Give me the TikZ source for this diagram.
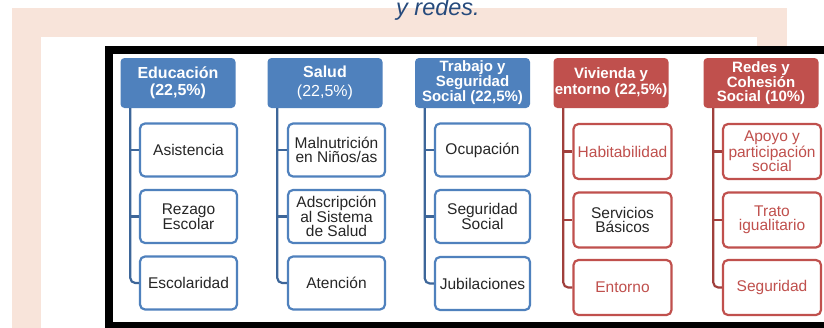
\documentclass[tikz,border=0pt]{standalone}
\usepackage{fontspec}
\setmainfont{Liberation Sans}
\usepackage{xcolor}
\usepackage{tikz}
\usetikzlibrary{positioning}

\definecolor{hdrblue}{HTML}{4F81BD}
\definecolor{lineblue}{HTML}{3D6699}
\definecolor{hdrred}{HTML}{C0504D}
\definecolor{linered}{HTML}{A03F3C}
\definecolor{peach}{HTML}{F8E4DA}
\definecolor{navy}{HTML}{264A7C}
\definecolor{txtgray}{HTML}{262626}

\begin{document}
\begin{tikzpicture}[x=1pt,y=-1pt,
    head/.style={rounded corners=4pt, minimum width=115pt, minimum height=50pt,
        inner sep=0pt, align=center, text=white, font=\fontsize{16}{16}\selectfont\bfseries},
    bluehead/.style={head, fill=hdrblue},
    redhead/.style={head, fill=hdrred},
    box/.style={fill=white, line width=2.2pt, rounded corners=5pt, minimum width=97pt,
        minimum height=53pt, inner sep=0pt, align=center, text=txtgray,
        font=\fontsize{15.5}{14.5}\selectfont},
    bluebox/.style={box, draw=hdrblue},
    redbox/.style={box, draw=hdrred, minimum width=98pt, minimum height=55pt},
    bluelink/.style={draw=lineblue, line width=2.2pt, rounded corners=5pt},
    redlink/.style={draw=linered, line width=2.2pt, rounded corners=5pt}]

    \useasboundingbox (0,0) rectangle (824,327);

    % Background frames
    \fill[peach] (12,8) rectangle (787,340);
    \fill[white] (41,37) rectangle (757,340);
    \draw[line width=8pt, fill=white] (109,50) rectangle (850,326);

    % Caption
    \node[anchor=base, text=navy, font=\fontsize{23.5}{23.5}\selectfont\itshape] (capt) at (438,15) {y redes.};

    % Educacion
    \node[bluehead] (edu) at (178,83) {Educación\\[1pt](22,5\%)};
    \node[bluebox] (edu1) at (188.5,150) {Asistencia};
    \node[bluebox] (edu2) at (188.5,216.5) {Rezago\\Escolar};
    \node[bluebox] (edu3) at (188.5,283) {Escolaridad};

    % Salud
    \node[bluehead] (sal) at (325,83) {Salud\\[3pt]\mdseries(22,5\%)};
    \node[bluebox] (sal1) at (336.5,150) {Malnutrición\\en Niños/as};
    \node[bluebox] (sal2) at (336.5,216.5) {Adscripción\\al Sistema\\de Salud};
    \node[bluebox] (sal3) at (336.5,283) {Atención};

    % Trabajo y seguridad social
    \node[bluehead, font=\fontsize{15}{13}\selectfont\bfseries] (tra) at (472.5,83) {Trabajo y\\Seguridad\\Social (22,5\%)};
    \node[bluebox, minimum width=95pt] (tra1) at (482.5,150) {Ocupación};
    \node[bluebox, minimum width=95pt] (tra2) at (482.5,216.5) {Seguridad\\Social};
    \node[bluebox, minimum width=95pt] (tra3) at (482.5,283.5) {Jubilaciones};

    % Vivienda y entorno
    \node[redhead, font=\fontsize{15}{16}\selectfont\bfseries] (viv) at (611,83) {Vivienda y\\entorno (22,5\%)};
    \node[redbox, text=hdrred] (viv1) at (622.5,151.5) {Habitabilidad};
    \node[redbox] (viv2) at (622.5,220) {Servicios\\Básicos};
    \node[redbox, text=hdrred] (viv3) at (622.5,287.5) {Entorno};

    % Redes y cohesion social
    \node[redhead, font=\fontsize{15}{14}\selectfont\bfseries] (red) at (761,83) {Redes y\\Cohesión\\Social (10\%)};
    \node[redbox, text=hdrred] (red1) at (772,151.5) {Apoyo y\\participación\\social};
    \node[redbox, text=hdrred] (red2) at (772,220) {Trato\\igualitario};
    \node[redbox, text=hdrred] (red3) at (772,287.5) {Seguridad};

    % Tree links
    \draw[bluelink] ([xshift=10pt]edu.south west) |- (edu3.west);
    \draw[bluelink] ([xshift=10pt]edu.south west |- edu1.west) -- (edu1.west);
    \draw[bluelink] ([xshift=10pt]edu.south west |- edu2.west) -- (edu2.west);

    \draw[bluelink] ([xshift=10pt]sal.south west) |- (sal3.west);
    \draw[bluelink] ([xshift=10pt]sal.south west |- sal1.west) -- (sal1.west);
    \draw[bluelink] ([xshift=10pt]sal.south west |- sal2.west) -- (sal2.west);

    \draw[bluelink] ([xshift=10pt]tra.south west) |- (tra3.west);
    \draw[bluelink] ([xshift=10pt]tra.south west |- tra1.west) -- (tra1.west);
    \draw[bluelink] ([xshift=10pt]tra.south west |- tra2.west) -- (tra2.west);

    \draw[redlink] ([xshift=10pt]viv.south west) |- (viv3.west);
    \draw[redlink] ([xshift=10pt]viv.south west |- viv1.west) -- (viv1.west);
    \draw[redlink] ([xshift=10pt]viv.south west |- viv2.west) -- (viv2.west);

    \draw[redlink] ([xshift=10pt]red.south west) |- (red3.west);
    \draw[redlink] ([xshift=10pt]red.south west |- red1.west) -- (red1.west);
    \draw[redlink] ([xshift=10pt]red.south west |- red2.west) -- (red2.west);
\end{tikzpicture}
\end{document}
